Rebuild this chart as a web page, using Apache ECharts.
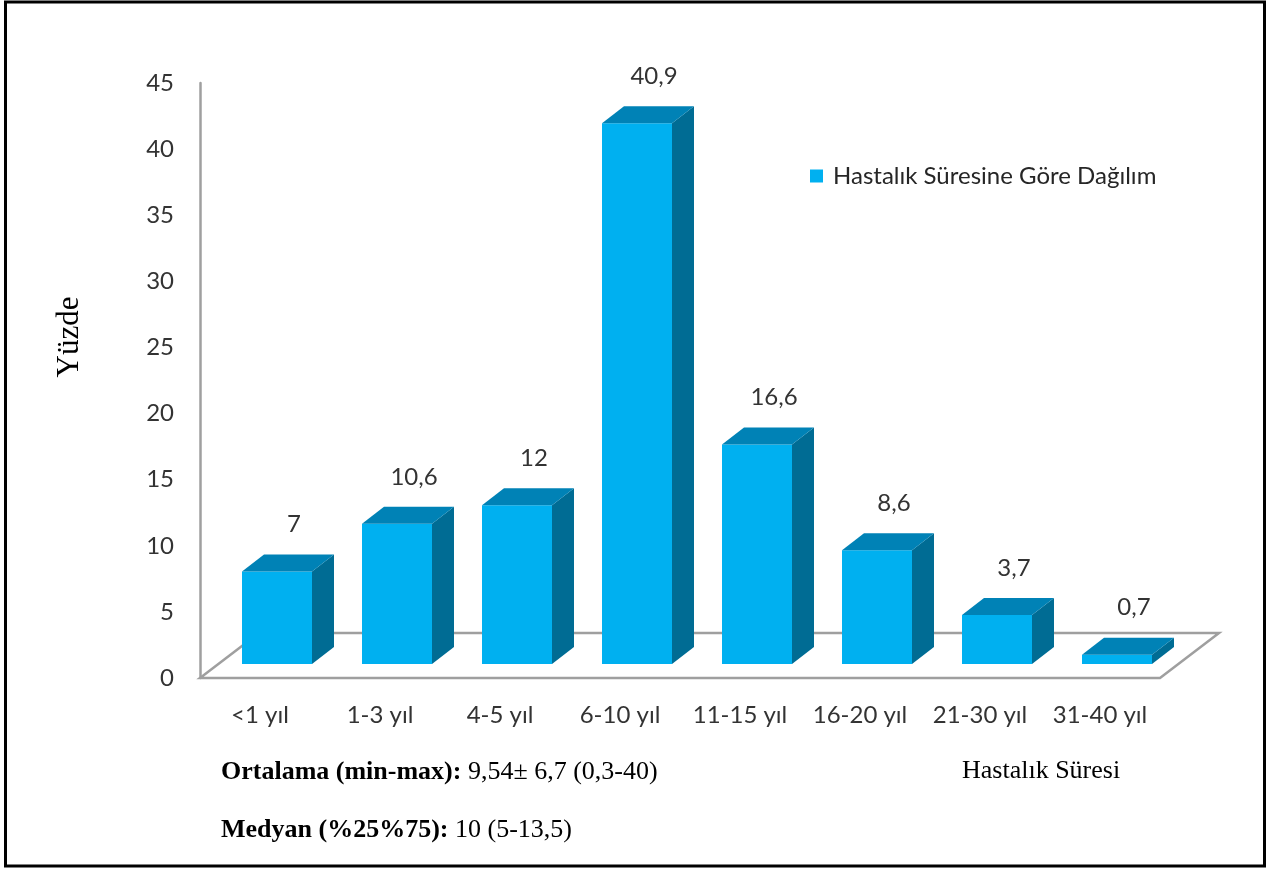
<!DOCTYPE html>
<html>
<head>
<meta charset="utf-8">
<script src="https://cdn.jsdelivr.net/npm/echarts@6/dist/echarts.min.js"></script>
<style>
html,body{margin:0;padding:0;background:#fff;}
#c{width:1284px;height:870px;}
</style>
</head>
<body>
<div id="c"></div>
<script>
// ---- data ----
const categories = ['<1 yıl', '1-3 yıl', '4-5 yıl', '6-10 yıl', '11-15 yıl', '16-20 yıl', '21-30 yıl', '31-40 yıl'];
const values = [7, 10.6, 12, 40.9, 16.6, 8.6, 3.7, 0.7];
const yTickMin = 0, yTickMax = 45, yTickStep = 5;
const seriesName = 'Hastalık Süresine Göre Dağılım';
const yTitle = 'Yüzde';
const xTitle = 'Hastalık Süresi';
const stat1Label = 'Ortalama (min-max):', stat1Value = '9,54± 6,7 (0,3-40)';
const stat2Label = 'Medyan (%25%75):', stat2Value = '10 (5-13,5)';

// ---- styles ----
const FRONT = '#00B0F0', TOP = '#0082B6', SIDE = '#006C94';
const GRAYLINE = '#9F9F9F';
const SANS = 'Lato';
const SERIF = '"Liberation Serif"';
const TXT = '#333333';
const fmt = v => String(v).replace('.', ',');

const chart = echarts.init(document.getElementById('c'), null, {renderer: 'canvas'});

function renderFloor(params, api) {
  const cs = params.coordSys;
  const x = cs.x, yb = cs.y + cs.height, w = cs.width;
  const ddx = 59, ddy = 45;
  return {
    type: 'polygon',
    shape: {points: [[x, yb], [x + w, yb], [x + w + ddx, yb - ddy], [x + ddx, yb - ddy]]},
    style: {fill: 'none', stroke: GRAYLINE, lineWidth: 2.5},
    z2: 0
  };
}

function renderBar(params, api) {
  const i = api.value(0), v = api.value(1);
  const base = api.coord([i, 0]);
  const top = api.coord([i, v]);
  const bw = api.size([1, 0])[0];
  const w = bw * 70 / 120;
  const ox = bw * 17 / 120, oy = 14;
  const dx = 22, dy = 17;
  const x0 = base[0] - w / 2 + ox, x1 = x0 + w;
  const yb = base[1] - oy, yt = top[1] - oy;
  return {
    type: 'group',
    children: [
      {type: 'polygon', shape: {points: [[x1, yt], [x1 + dx, yt - dy], [x1 + dx, yb - dy], [x1, yb]]}, style: {fill: SIDE}},
      {type: 'rect', shape: {x: x0, y: yt, width: w, height: yb - yt}, style: {fill: FRONT}},
      {type: 'polygon', shape: {points: [[x0, yt], [x0 + dx, yt - dy], [x1 + dx, yt - dy], [x1, yt]]}, style: {fill: TOP}},
      {type: 'text', x: (x0 + x1) / 2 + 17, y: yt - 47,
        style: {text: fmt(v), fill: TXT, font: '24px ' + SANS, align: 'center', verticalAlign: 'middle'}}
    ]
  };
}

const option = {
  animation: false,
  backgroundColor: '#ffffff',
  grid: {left: 200, width: 960, top: 83, height: 595},
  legend: {
    data: [seriesName],
    left: 810, top: 164,
    padding: 0,
    itemWidth: 13, itemHeight: 13,
    icon: 'rect',
    selectedMode: false,
    textStyle: {fontFamily: SANS, fontSize: 24, color: '#262626', padding: [0, 0, 0, 5]}
  },
  xAxis: {
    type: 'category',
    data: categories,
    axisLine: {show: false},
    axisTick: {show: false},
    axisLabel: {fontFamily: SANS, fontSize: 24, color: TXT, margin: 25, interval: 0}
  },
  yAxis: {
    type: 'value',
    min: yTickMin, max: yTickMax, interval: yTickStep,
    axisLine: {show: true, lineStyle: {color: GRAYLINE, width: 2.5}},
    axisTick: {show: false},
    splitLine: {show: false},
    axisLabel: {fontFamily: SANS, fontSize: 24, color: TXT, margin: 26}
  },
  series: [
    {
      type: 'custom',
      name: 'floor',
      renderItem: renderFloor,
      data: [[0, 0]],
      encode: {x: 0, y: 1},
      silent: true,
      z: 1
    },
    {
      type: 'custom',
      name: seriesName,
      renderItem: renderBar,
      data: values.map((v, i) => [i, v]),
      encode: {x: 0, y: 1},
      itemStyle: {color: FRONT},
      z: 2
    }
  ],
  graphic: [
    {type: 'rect', shape: {x: 5.5, y: 2, width: 1259, height: 864},
      style: {fill: 'none', stroke: '#000', lineWidth: 3}, z: 100},
    {type: 'text', x: 70, y: 337, rotation: Math.PI / 2,
      style: {text: yTitle, font: '31px ' + SERIF, fill: '#000', align: 'center', verticalAlign: 'middle'}},
    {type: 'text', x: 962, y: 771,
      style: {text: xTitle, font: '26px ' + SERIF, fill: '#000', align: 'left', verticalAlign: 'middle'}},
    {type: 'text', x: 221, y: 772,
      style: {
        text: '{b|' + stat1Label + '} ' + stat1Value,
        fontFamily: 'Liberation Serif', fontSize: 26, fill: '#000', align: 'left', verticalAlign: 'middle',
        rich: {b: {fontFamily: 'Liberation Serif', fontSize: 26, fontWeight: 'bold', fill: '#000'}}
      }},
    {type: 'text', x: 221, y: 830,
      style: {
        text: '{b|' + stat2Label + '} ' + stat2Value,
        fontFamily: 'Liberation Serif', fontSize: 26, fill: '#000', align: 'left', verticalAlign: 'middle',
        rich: {b: {fontFamily: 'Liberation Serif', fontSize: 26, fontWeight: 'bold', fill: '#000'}}
      }}
  ]
};
chart.setOption(option);
</script>
</body>
</html>
